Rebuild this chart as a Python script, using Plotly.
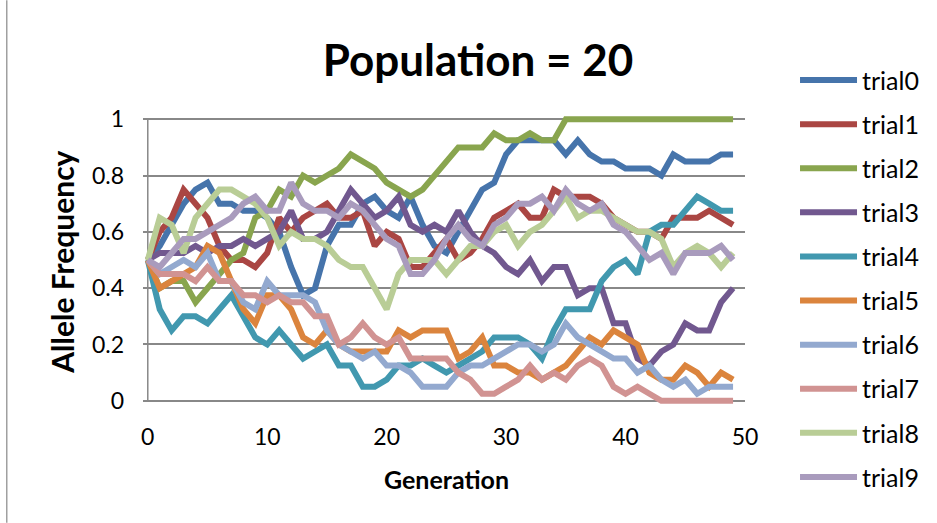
import plotly.graph_objects as go

generation = list(range(50))
trial_names = ["trial0", "trial1", "trial2", "trial3", "trial4",
               "trial5", "trial6", "trial7", "trial8", "trial9"]

trial0 = [0.5, 0.55, 0.625, 0.7, 0.75, 0.775, 0.7, 0.7, 0.675, 0.675,
          0.65, 0.6, 0.475, 0.375, 0.4, 0.55, 0.625, 0.625, 0.7, 0.725,
          0.675, 0.65, 0.725, 0.625, 0.55, 0.525, 0.6, 0.675, 0.75, 0.775,
          0.875, 0.925, 0.925, 0.925, 0.925, 0.875, 0.925, 0.875, 0.85, 0.85,
          0.825, 0.825, 0.825, 0.8, 0.875, 0.85, 0.85, 0.85, 0.875, 0.875]
trial1 = [0.5, 0.6, 0.65, 0.75, 0.7, 0.65, 0.55, 0.5, 0.5, 0.475,
          0.525, 0.65, 0.6, 0.65, 0.675, 0.7, 0.65, 0.65, 0.675, 0.55,
          0.6, 0.575, 0.475, 0.475, 0.525, 0.575, 0.5, 0.525, 0.575, 0.65,
          0.675, 0.7, 0.65, 0.65, 0.75, 0.725, 0.725, 0.725, 0.7, 0.65,
          0.625, 0.6, 0.6, 0.575, 0.65, 0.65, 0.65, 0.675, 0.65, 0.625]
trial2 = [0.5, 0.4, 0.425, 0.425, 0.35, 0.4, 0.45, 0.5, 0.525, 0.65,
          0.675, 0.75, 0.725, 0.8, 0.775, 0.8, 0.825, 0.875, 0.85, 0.825,
          0.775, 0.75, 0.725, 0.75, 0.8, 0.85, 0.9, 0.9, 0.9, 0.95,
          0.925, 0.925, 0.95, 0.925, 0.925, 1, 1, 1, 1, 1,
          1, 1, 1, 1, 1, 1, 1, 1, 1, 1]
trial3 = [0.5, 0.525, 0.525, 0.525, 0.55, 0.525, 0.55, 0.55, 0.575, 0.55,
          0.575, 0.6, 0.675, 0.575, 0.575, 0.6, 0.675, 0.75, 0.7, 0.65,
          0.675, 0.725, 0.625, 0.6, 0.625, 0.6, 0.675, 0.6, 0.55, 0.525,
          0.475, 0.45, 0.5, 0.425, 0.475, 0.475, 0.375, 0.4, 0.4, 0.275,
          0.275, 0.15, 0.125, 0.175, 0.2, 0.275, 0.25, 0.25, 0.35, 0.4]
trial4 = [0.5, 0.325, 0.25, 0.3, 0.3, 0.275, 0.325, 0.375, 0.3, 0.225,
          0.2, 0.25, 0.2, 0.15, 0.175, 0.2, 0.125, 0.125, 0.05, 0.05,
          0.075, 0.125, 0.125, 0.15, 0.125, 0.1, 0.125, 0.15, 0.175, 0.225,
          0.225, 0.225, 0.2, 0.15, 0.25, 0.325, 0.325, 0.325, 0.425, 0.475,
          0.5, 0.45, 0.6, 0.625, 0.625, 0.675, 0.725, 0.7, 0.675, 0.675]
trial5 = [0.5, 0.4, 0.425, 0.45, 0.475, 0.55, 0.525, 0.425, 0.325, 0.275,
          0.375, 0.375, 0.325, 0.225, 0.2, 0.25, 0.2, 0.175, 0.175, 0.175,
          0.175, 0.25, 0.225, 0.25, 0.25, 0.25, 0.15, 0.175, 0.225, 0.125,
          0.125, 0.1, 0.1, 0.075, 0.1, 0.125, 0.175, 0.225, 0.2, 0.25,
          0.225, 0.2, 0.1, 0.075, 0.075, 0.125, 0.1, 0.05, 0.1, 0.075]
trial6 = [0.5, 0.45, 0.475, 0.5, 0.475, 0.525, 0.425, 0.425, 0.35, 0.325,
          0.425, 0.375, 0.375, 0.375, 0.35, 0.25, 0.2, 0.175, 0.15, 0.175,
          0.125, 0.125, 0.1, 0.05, 0.05, 0.05, 0.1, 0.125, 0.125, 0.15,
          0.175, 0.2, 0.2, 0.175, 0.2, 0.275, 0.225, 0.2, 0.175, 0.15,
          0.15, 0.1, 0.125, 0.075, 0.05, 0.075, 0.025, 0.05, 0.05, 0.05]
trial7 = [0.5, 0.45, 0.45, 0.45, 0.425, 0.475, 0.425, 0.425, 0.375, 0.375,
          0.35, 0.375, 0.35, 0.35, 0.3, 0.3, 0.2, 0.225, 0.275, 0.225,
          0.2, 0.225, 0.15, 0.15, 0.15, 0.15, 0.1, 0.075, 0.025, 0.025,
          0.05, 0.075, 0.125, 0.075, 0.1, 0.075, 0.125, 0.15, 0.125, 0.05,
          0.025, 0.05, 0.025, 0, 0, 0, 0, 0, 0, 0]
trial8 = [0.5, 0.65, 0.625, 0.525, 0.65, 0.7, 0.75, 0.75, 0.725, 0.7,
          0.65, 0.55, 0.6, 0.575, 0.575, 0.55, 0.5, 0.475, 0.475, 0.4,
          0.325, 0.45, 0.5, 0.5, 0.5, 0.45, 0.5, 0.55, 0.55, 0.6,
          0.625, 0.55, 0.6, 0.625, 0.675, 0.725, 0.65, 0.675, 0.675, 0.65,
          0.625, 0.6, 0.6, 0.575, 0.475, 0.525, 0.55, 0.525, 0.475, 0.525]
trial9 = [0.5, 0.475, 0.525, 0.575, 0.575, 0.6, 0.625, 0.65, 0.7, 0.725,
          0.675, 0.675, 0.775, 0.7, 0.675, 0.675, 0.65, 0.7, 0.675, 0.625,
          0.575, 0.55, 0.45, 0.45, 0.5, 0.575, 0.625, 0.575, 0.55, 0.625,
          0.65, 0.7, 0.7, 0.725, 0.675, 0.75, 0.7, 0.675, 0.7, 0.625,
          0.6, 0.55, 0.5, 0.525, 0.45, 0.525, 0.525, 0.525, 0.55, 0.5]

series = [trial0, trial1, trial2, trial3, trial4, trial5, trial6, trial7, trial8, trial9]
colors = ["#4674AB", "#AA4643", "#89A54E", "#71588F", "#4198AF",
          "#DB843D", "#93A9CF", "#D19392", "#B9CD96", "#A99BBD"]

x_ticks = [0, 10, 20, 30, 40, 50]
y_ticks = [0, 0.2, 0.4, 0.6, 0.8, 1]

W, H = 937, 523
L, R, T, B = 143.2, 192, 114.8, 117.8
PW, PH = W - L - R, H - T - B
FONT = "Lato"
GRID = "#888888"

fig = go.Figure()
for name, vals, col in zip(trial_names, series, colors):
    fig.add_trace(go.Scatter(
        x=generation, y=vals, name=name, mode="lines",
        line=dict(color=col, width=6), legendgroup=name))

def px_to_paper_x(px):
    return (px - L) / PW

def px_to_paper_y(py):
    return (H - B - py) / PH

fig.update_layout(
    width=W, height=H,
    margin=dict(l=L, r=R, t=T, b=B, autoexpand=False),
    paper_bgcolor="white", plot_bgcolor="white",
    font=dict(family=FONT, color="#000000", size=23),
    title=dict(text="<b>Population = 20</b>", x=478 / W, xanchor="center",
               y=1 - 61 / H, yanchor="middle",
               font=dict(family=FONT, size=44, color="#000000")),
    xaxis=dict(range=[-0.4, 50], tickvals=x_ticks, showgrid=False,
               zeroline=False, showline=False, ticks="",
               ticklabelstandoff=16, tickfont=dict(size=23)),
    yaxis=dict(range=[-0.015, 1.015], tickvals=y_ticks, showgrid=True,
               gridcolor=GRID, gridwidth=1.5, zeroline=False, showline=False,
               ticks="", ticklabelstandoff=18, tickfont=dict(size=23)),
    legend=dict(x=px_to_paper_x(795), y=px_to_paper_y(57), xanchor="left",
                yanchor="top", font=dict(size=25, family=FONT),
                tracegroupgap=8.6, itemwidth=57, bgcolor="rgba(0,0,0,0)",
                maxheight=520),
    showlegend=True,
)

fig.add_shape(type="line", xref="x", yref="y", x0=0, x1=50, y0=0, y1=0,
              line=dict(color=GRID, width=1.5), layer="below")
fig.add_shape(type="line", xref="x", yref="y", x0=0, x1=0, y0=0, y1=1,
              line=dict(color=GRID, width=1.5), layer="below")
fig.add_shape(type="line", xref="paper", yref="paper",
              x0=px_to_paper_x(7), x1=px_to_paper_x(7),
              y0=px_to_paper_y(H), y1=px_to_paper_y(0),
              line=dict(color="#A0A0A0", width=1.5))

fig.add_annotation(text="<b>Allele Frequency</b>", xref="paper", yref="paper",
                   x=px_to_paper_x(62), y=px_to_paper_y(262), textangle=-90,
                   showarrow=False, xanchor="center", yanchor="middle",
                   font=dict(size=30, family=FONT))
fig.add_annotation(text="<b>Generation</b>", xref="paper", yref="paper",
                   x=px_to_paper_x(447), y=px_to_paper_y(479),
                   showarrow=False, xanchor="center", yanchor="middle",
                   font=dict(size=25, family=FONT))

fig.write_html("out.html", config={"displayModeBar": False},
               post_script="document.body.style.margin='0';")
